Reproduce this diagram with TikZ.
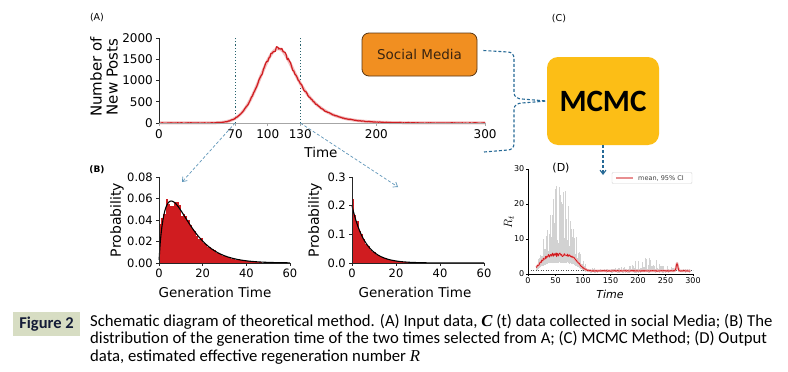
\documentclass[tikz,border=0pt]{standalone}
\usepackage{fontspec}
\setmainfont{Carlito}
\newfontfamily\plotfont{DejaVu Sans}
\newfontfamily\serifit{Liberation Serif}
\usetikzlibrary{arrows.meta}
\definecolor{mplred}{RGB}{208,28,32}
\definecolor{smfill}{RGB}{241,143,33}
\definecolor{smdraw}{RGB}{90,55,20}
\definecolor{smtext}{RGB}{58,36,16}
\definecolor{mcfill}{RGB}{252,190,22}
\definecolor{connblue}{RGB}{38,105,150}
\definecolor{arrblue}{RGB}{95,150,185}
\definecolor{vlinecol}{RGB}{40,100,110}
\definecolor{figbox}{RGB}{215,221,195}
\definecolor{figtext}{RGB}{20,28,55}
\definecolor{bandgray}{RGB}{210,210,210}
\begin{document}
\begin{tikzpicture}[x=1pt,y=-1pt,
  declare function={
    gB(\x)=(\x^0.8)*exp(0-\x/7)/30.92;
    gC(\x)=0.2*exp(0-\x/6);
    mD(\x)=0.9+4.6*exp(0-min(9,(min(2.5,abs(\x-57)/38))^4))+2.2*exp(0-min(9,(min(4,abs(\x-271)/2))^2));
  },
  tickA/.style={font=\plotfont\fontsize{12}{13}\selectfont,inner sep=0pt},
  tickB/.style={font=\plotfont\fontsize{11.5}{12}\selectfont,inner sep=0pt},
  tickD/.style={font=\plotfont\fontsize{8}{9}\selectfont,inner sep=0pt},
  axlab/.style={font=\plotfont\fontsize{13.5}{14}\selectfont,inner sep=0pt},
  panel/.style={font=\plotfont\fontsize{9.5}{10}\selectfont,inner sep=0pt},
  spine/.style={black!85,line width=0.8pt},
  conn/.style={connblue,dash pattern=on 3pt off 2pt,line width=1.1pt},
  selarrow/.style={arrblue,dash pattern=on 3pt off 2pt,line width=0.7pt,-{Straight Barb[length=4pt,width=6pt]}},
  capline/.style={anchor=base west,inner sep=0pt,font=\fontsize{16.7}{18}\selectfont},
  smbox/.style={draw=smdraw,fill=smfill,line width=0.8pt,rounded corners=7pt,minimum width=115pt,minimum height=43pt,text=smtext,font=\plotfont\fontsize{13.5}{14}\selectfont},
  mcbox/.style={fill=mcfill,rounded corners=11pt,minimum width=112pt,minimum height=88pt,font=\fontsize{31}{31}\selectfont\bfseries}
]
\useasboundingbox (0,0) rectangle (788,372);
\fill[white] (0,0) rectangle (788,372);
\pgfmathsetseed{5}

% ---------- Panel A ----------
\node[panel] (labA) at (97,18) {(A)};
\begin{scope}[xshift=159pt,yshift=-123pt,x=1.087pt,y=0.0425pt]
  \draw[vlinecol,dotted,line width=1.1pt] (70,0) -- (70,2000);
  \draw[vlinecol,dotted,line width=1.1pt] (130,0) -- (130,2000);
  \draw[mplred!30,line width=3pt,line join=round]
    plot[domain=0:110,samples=56] (\x,{1750*exp(0-min(9,0.5*(abs(\x-110)/17)^2))})
    -- plot[domain=110:300,samples=96] (\x,{1750*exp(0-min(9,(12*sqrt((abs(\x-110)/12)^2+1)-12)/18))});
  \draw[mplred,line width=1.2pt,line join=round]
    plot[domain=0:110,samples=111] (\x,{1750*exp(0-min(9,0.5*(abs(\x-110)/17)^2))*(1+0.03*rand)+6*rand})
    -- plot[domain=110:300,samples=191] (\x,{1750*exp(0-min(9,(12*sqrt((abs(\x-110)/12)^2+1)-12)/18))*(1+0.03*rand)+6*rand});
  \draw[gray!70,line width=0.6pt] (0,0) -- (300,0);
  \draw[spine] (0,0) -- (0,2000);
  \foreach \v in {0,500,1000,1500,2000}{
    \draw[spine,line width=0.6pt] (0,\v) -- ++(-3pt,0);
    \node[tickA,anchor=east] at ([xshift=-6pt]0,\v) {\v};
  }
  \foreach \t in {0,70,100,130,200,300}{
    \draw[gray!70,line width=0.6pt] (\t,0) -- ++(0,-3pt);
    \node[tickA] at ([yshift=-11pt]\t,0) {\t};
  }
  \coordinate (a70) at (70,0);
  \coordinate (a130) at (130,0);
\end{scope}
\node[axlab,rotate=90,align=center,font=\plotfont\fontsize{15}{16}\selectfont] (ylabA) at (104,77) {Number of\\New Posts};
\node[axlab] (xlabA) at (321,152) {Time};

% selection arrows
\coordinate (b1tip) at (182,182);
\coordinate (b2tip) at (398,187);
\draw[selarrow] (a70) -- (b1tip);
\draw[selarrow] (a130) -- (b2tip);

% ---------- Panel B1 ----------
\node[panel,font=\plotfont\fontsize{9}{10}\selectfont\bfseries] (labB) at (97,170) {(B)};
\begin{scope}[xshift=159pt,yshift=-263pt,x=2.183pt,y=1075pt]
  \foreach \i in {0,...,46}{
    \pgfmathsetmacro\h{max(0,(gB(\i+0.5)+0.02*exp(0-min(9,\i)))*(1+0.1*rand))}
    \fill[mplred] (\i,0) rectangle (\i+1.03,\h);
  }
  \draw[black,line width=1.1pt] plot[domain=0.05:60,samples=120,smooth] (\x,{gB(\x)});
  \draw[spine] (0,0.08) -- (0,0) -- (60,0);
  \foreach \v/\l in {0/0.00,0.02/0.02,0.04/0.04,0.06/0.06,0.08/0.08}{
    \draw[spine,line width=0.6pt] (0,\v) -- ++(-3pt,0);
    \node[tickB,anchor=east] at ([xshift=-6pt]0,\v) {\l};
  }
  \foreach \t in {0,20,40,60}{
    \draw[spine,line width=0.6pt] (\t,0) -- ++(0,-3pt);
    \node[tickB] at ([yshift=-10pt]\t,0) {\t};
  }
\end{scope}
\node[axlab,rotate=90,font=\plotfont\fontsize{14}{14}\selectfont] (ylabB1) at (117,220) {Probability};
\node[axlab] (xlabB1) at (215,292) {Generation Time};

% ---------- Panel B2 ----------
\begin{scope}[xshift=352pt,yshift=-263pt,x=2.2pt,y=286.7pt]
  \foreach \i in {0,...,40}{
    \pgfmathsetmacro\h{max(0,(gC(\i+0.5)+0.045*exp(0-min(9,\i)))*(1+0.08*rand))}
    \fill[mplred] (\i,0) rectangle (\i+1.03,\h);
  }
  \draw[black,line width=1.1pt] plot[domain=0:60,samples=120,smooth] (\x,{gC(\x)});
  \draw[spine] (0,0.3) -- (0,0) -- (60,0);
  \foreach \v/\l in {0/0.0,0.1/0.1,0.2/0.2,0.3/0.3}{
    \draw[spine,line width=0.6pt] (0,\v) -- ++(-3pt,0);
    \node[tickB,anchor=east] at ([xshift=-6pt]0,\v) {\l};
  }
  \foreach \t in {0,20,40,60}{
    \draw[spine,line width=0.6pt] (\t,0) -- ++(0,-3pt);
    \node[tickB] at ([yshift=-10pt]\t,0) {\t};
  }
\end{scope}
\node[axlab,rotate=90,font=\plotfont\fontsize{14}{14}\selectfont] (ylabB2) at (315,220) {Probability};
\node[axlab] (xlabB2) at (415,292) {Generation Time};

% ---------- Panel C ----------
\node[panel] (labC) at (559,19) {(C)};
\node[smbox] (sm) at (419.5,54.5) {Social Media};
\node[mcbox] (mc) at (603,101) {MCMC};
\coordinate (bstart) at (484,152);
\draw[conn] ([xshift=6pt,yshift=4pt]sm.east) -- (508,52) to[out=0,in=90] (514,58) -- (514,93) to[out=-90,in=180] (522,99) -- (mc.west);
\draw[conn] (bstart) -- (508,150) to[out=0,in=-90] (514,144) -- (514,109) to[out=90,in=180] (522,103) -- (mc.west);
\coordinate (dtip) at (603,175);
\draw[conn,-{Straight Barb[length=4pt,width=6pt]}] (mc.south) -- (dtip);

% ---------- Panel D ----------
\node[panel,font=\plotfont\fontsize{11}{12}\selectfont] (labD) at (561,168) {(D)};
\begin{scope}[xshift=528pt,yshift=-274pt,x=0.55pt,y=3.5pt]
  \foreach \t in {15,...,295}{
    \pgfmathsetmacro\m{mD(\t)}
    \pgfmathsetmacro\e{21*exp(0-min(9,(min(4,abs(\t-58)/28))^2))+3.5*exp(0-min(9,(min(4,abs(\t-215)/35))^2))+0.6}
    \pgfmathsetmacro\r{rnd}
    \pgfmathsetmacro\up{\m+\e*(0.12+0.88*\r*\r*\r)}
    \pgfmathsetmacro\lo{max(0,\m-0.4*(\m-0.3)-0.3*rnd)}
    \draw[bandgray,line width=0.75pt] (\t,\lo) -- (\t,\up);
  }
  \draw[black!70,dotted,line width=0.5pt] (0,1) -- (300,1);
  \draw[mplred!35,line width=2.4pt,line join=round] plot[domain=15:295,samples=141] (\x,{mD(\x)});
  \draw[mplred,line width=0.8pt,line join=round] plot[domain=15:295,samples=281] (\x,{mD(\x)+(0.12+0.45*exp(0-min(9,(min(4,abs(\x-50)/28))^2)))*rand});
  \draw[black,line width=0.5pt] (0,30) -- (0,0) -- (300,0);
  \foreach \v in {0,10,20,30}{
    \draw[black,line width=0.5pt] (0,\v) -- ++(-2pt,0);
    \node[tickD,anchor=east] at ([xshift=-3.5pt]0,\v) {\v};
  }
  \foreach \t in {0,50,100,150,200,250,300}{
    \draw[black,line width=0.5pt] (\t,0) -- ++(0,-2pt);
    \node[tickD] at ([yshift=-7pt]\t,0) {\t};
  }
\end{scope}
\node[draw=gray!35,fill=white,rounded corners=1pt,minimum width=80pt,minimum height=11pt,inner sep=0pt] (leg) at (652,178) {};
\draw[mplred!50,line width=1.6pt] ([xshift=4pt]leg.west) -- ++(17pt,0);
\node[font=\plotfont\fontsize{6.5}{7}\selectfont,text=black!75,inner sep=0pt] (legtxt) at (661,178) {mean, 95\% CI};
\node[rotate=90,inner sep=0pt,font=\fontsize{13}{14}\selectfont] (ylabD) at (509,222) {$R_t$};
\node[font=\plotfont\fontsize{11}{12}\selectfont\itshape,inner sep=0pt] (xlabD) at (610,294) {Time};

% ---------- Caption ----------
\node[fill=figbox,minimum width=67pt,minimum height=24pt,inner sep=0pt,text=figtext,font=\fontsize{16.5}{18}\selectfont\bfseries] (fig) at (46.5,324) {Figure 2};
\node[capline] (cap1) at (90,326) {Schematic diagram of theoretical method. (A) Input data, {\serifit\bfseries\itshape C} (t) data collected in social Media; (B) The};
\node[capline] (cap2) at (90,343.5) {distribution of the generation time of the two times selected from A; (C) MCMC Method; (D) Output};
\node[capline] (cap3) at (90,361) {data, estimated effective regeneration number {\serifit\itshape R}};
\end{tikzpicture}
\end{document}
